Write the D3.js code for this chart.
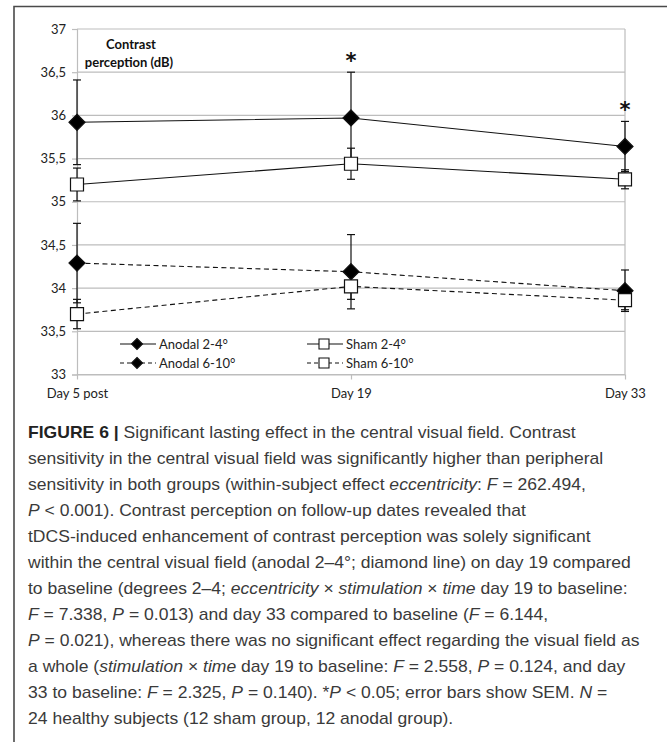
<!DOCTYPE html>
<html>
<head>
<meta charset="utf-8">
<script src="https://cdn.jsdelivr.net/npm/d3@7"></script>
<style>
  body { margin: 0; background: #fff; }
  svg { display: block; }
</style>
</head>
<body>
<div id="chart"></div>
<script>
// values (contrast perception, dB)
var categories = ['Day 5 post', 'Day 19', 'Day 33'];
var anodal24 = [35.92, 35.97, 35.64];
var anodal24Sem = [0.49, 0.53, 0.29];
var sham24 = [35.20, 35.44, 35.26];
var sham24Sem = [0.19, 0.18, 0.11];
var anodal610 = [34.29, 34.19, 33.97];
var anodal610Sem = [0.46, 0.43, 0.24];
var sham610 = [33.70, 34.02, 33.86];
var sham610Sem = [0.17, 0.15, 0.11];
var yTicks = [33, 33.5, 34, 34.5, 35, 35.5, 36, 36.5, 37];
var starred = ['Day 19', 'Day 33'];

var caption = [
  [['FIGURE 6 | ', 'b'], ['Significant lasting effect in the central visual field. Contrast', '']],
  [['sensitivity in the central visual field was significantly higher than peripheral', '']],
  [['sensitivity in both groups (within-subject effect ', ''], ['eccentricity', 'i'], [': ', ''], ['F', 'i'], [' = 262.494,', '']],
  [['P', 'i'], [' < 0.001). Contrast perception on follow-up dates revealed that', '']],
  [['tDCS-induced enhancement of contrast perception was solely significant', '']],
  [['within the central visual field (anodal 2\u20134\u00b0; diamond line) on day 19 compared', '']],
  [['to baseline (degrees 2\u20134; ', ''], ['eccentricity', 'i'], [' \u00d7 ', ''], ['stimulation', 'i'], [' \u00d7 ', ''], ['time', 'i'], [' day 19 to baseline:', '']],
  [['F', 'i'], [' = 7.338, ', ''], ['P', 'i'], [' = 0.013) and day 33 compared to baseline (', ''], ['F', 'i'], [' = 6.144,', '']],
  [['P', 'i'], [' = 0.021), whereas there was no significant effect regarding the visual field as', '']],
  [['a whole (', ''], ['stimulation', 'i'], [' \u00d7 ', ''], ['time', 'i'], [' day 19 to baseline: ', ''], ['F', 'i'], [' = 2.558, ', ''], ['P', 'i'], [' = 0.124, and day', '']],
  [['33 to baseline: ', ''], ['F', 'i'], [' = 2.325, ', ''], ['P', 'i'], [' = 0.140). *', ''], ['P', 'i'], [' < 0.05; error bars show SEM. ', ''], ['N', 'i'], [' =', '']],
  [['24 healthy subjects (12 sham group, 12 anodal group).', '']]
];

var series = [
  { name: 'Anodal 6-10\u00b0', values: anodal610, sem: anodal610Sem, marker: 'diamond', dashed: true },
  { name: 'Sham 6-10\u00b0', values: sham610, sem: sham610Sem, marker: 'square', dashed: true },
  { name: 'Sham 2-4\u00b0', values: sham24, sem: sham24Sem, marker: 'square', dashed: false },
  { name: 'Anodal 2-4\u00b0', values: anodal24, sem: anodal24Sem, marker: 'diamond', dashed: false }
];
var legendOrder = ['Anodal 2-4\u00b0', 'Sham 2-4\u00b0', 'Anodal 6-10\u00b0', 'Sham 6-10\u00b0'];

(function () {
  var W = 667, H = 742;
  var pLeft = 77, pRight = 625, pTop = 29, pBottom = 374.5;
  var chartFont = 'Lato, "Open Sans", sans-serif';

  var svg = d3.select('#chart').append('svg')
    .attr('width', W)
    .attr('height', H);

  // outer figure frame (top and left rule)
  svg.append('path')
    .attr('d', 'M14,' + H + 'V6.5H' + W)
    .attr('fill', 'none')
    .attr('stroke', '#4a4a4a')
    .attr('stroke-width', 1.6);

  var x = d3.scalePoint().domain(categories).range([pLeft, pRight]);
  var y = d3.scaleLinear().domain([33, 37]).range([pBottom, pTop]);

  // grid
  svg.append('g').selectAll('line')
    .data(yTicks)
    .enter()
    .append('line')
    .attr('x1', pLeft).attr('x2', pRight)
    .attr('y1', function(d) { return y(d); })
    .attr('y2', function(d) { return y(d); })
    .attr('stroke', '#bdbdbd')
    .attr('stroke-width', 1.2);

  svg.append('line')
    .attr('x1', pRight).attr('x2', pRight)
    .attr('y1', pTop).attr('y2', pBottom)
    .attr('stroke', '#bdbdbd')
    .attr('stroke-width', 1.2);

  // y axis
  var yAxis = svg.append('g')
    .attr('transform', 'translate(' + pLeft + ',0)')
    .call(d3.axisLeft(y).tickValues(yTicks).tickSize(5).tickPadding(6)
      .tickFormat(function(d) { return String(d).replace('.', ','); }));
  yAxis.select('.domain').attr('stroke', '#bdbdbd').attr('stroke-width', 1.2);
  yAxis.selectAll('.tick line').attr('stroke', '#bdbdbd').attr('stroke-width', 1.2);
  yAxis.selectAll('text')
    .attr('font-family', chartFont)
    .attr('font-size', 13)
    .attr('fill', '#222');

  // x axis
  var xAxis = svg.append('g')
    .attr('transform', 'translate(0,' + pBottom + ')')
    .call(d3.axisBottom(x).tickSize(5).tickPadding(9).tickSizeOuter(0));
  xAxis.select('.domain').attr('stroke', '#bdbdbd').attr('stroke-width', 1.2);
  xAxis.selectAll('.tick line').attr('stroke', '#bdbdbd').attr('stroke-width', 1.2);
  xAxis.selectAll('text')
    .attr('font-family', chartFont)
    .attr('font-size', 13)
    .attr('fill', '#222');

  // axis title inside the plot
  var title = svg.append('text')
    .attr('font-family', chartFont)
    .attr('font-size', 13)
    .attr('font-weight', 'bold')
    .attr('fill', '#111')
    .attr('text-anchor', 'middle');
  title.append('tspan').attr('x', 131).attr('y', 49).text('Contrast');
  title.append('tspan').attr('x', 129).attr('y', 67).text('perception (dB)');

  function markerPath(type, s) {
    if (type === 'diamond') return 'M0,' + (-s) + 'L' + s + ',0L0,' + s + 'L' + (-s) + ',0Z';
    return 'M' + (-s) + ',' + (-s) + 'H' + s + 'V' + s + 'H' + (-s) + 'Z';
  }

  var line = d3.line()
    .x(function(d, i) { return x(categories[i]); })
    .y(function(d) { return y(d); });

  // error bars first, then lines, then markers
  series.forEach(function(s) {
    var g = svg.append('g');
    s.values.forEach(function(v, i) {
      var cx = x(categories[i]);
      var hi = y(v + s.sem[i]), lo = y(v - s.sem[i]);
      g.append('line').attr('x1', cx).attr('x2', cx).attr('y1', hi).attr('y2', lo)
        .attr('stroke', '#111').attr('stroke-width', 1.2);
      [hi, lo].forEach(function(yy) {
        g.append('line').attr('x1', cx - 4).attr('x2', cx + 4).attr('y1', yy).attr('y2', yy)
          .attr('stroke', '#111').attr('stroke-width', 1.2);
      });
    });
  });

  series.forEach(function(s) {
    svg.append('path')
      .datum(s.values)
      .attr('d', line)
      .attr('fill', 'none')
      .attr('stroke', '#111')
      .attr('stroke-width', 1.1)
      .attr('stroke-dasharray', s.dashed ? '5,3.5' : null);
  });

  series.forEach(function(s) {
    svg.append('g').selectAll('path')
      .data(s.values)
      .enter()
      .append('path')
      .attr('transform', function(d, i) { return 'translate(' + x(categories[i]) + ',' + y(d) + ')'; })
      .attr('d', s.marker === 'diamond' ? markerPath('diamond', 8) : markerPath('square', 6.5))
      .attr('fill', s.marker === 'diamond' ? '#000' : '#fff')
      .attr('stroke', '#111')
      .attr('stroke-width', 1.2);
  });

  // significance stars above the anodal 2-4 error bar
  svg.append('g').selectAll('text')
    .data(starred)
    .enter()
    .append('text')
    .attr('x', function(d) { return x(d); })
    .attr('y', function(d) {
      var i = categories.indexOf(d);
      return y(anodal24[i] + anodal24Sem[i]) - 4;
    })
    .attr('text-anchor', 'middle')
    .attr('font-family', '"DejaVu Sans", sans-serif')
    .attr('font-size', 21)
    .attr('font-weight', 'bold')
    .attr('fill', '#111')
    .text('*');

  // legend
  var legend = svg.append('g');
  legendOrder.forEach(function(name, k) {
    var s = series.filter(function(d) { return d.name === name; })[0];
    var lx = k % 2 === 0 ? 120 : 307;
    var ly = k < 2 ? 344 : 363;
    legend.append('line')
      .attr('x1', lx).attr('x2', lx + 36).attr('y1', ly).attr('y2', ly)
      .attr('stroke', '#111').attr('stroke-width', 1.1)
      .attr('stroke-dasharray', s.dashed ? '4,3' : null);
    legend.append('path')
      .attr('transform', 'translate(' + (lx + 17) + ',' + ly + ')')
      .attr('d', s.marker === 'diamond' ? markerPath('diamond', 5.5) : markerPath('square', 5))
      .attr('fill', s.marker === 'diamond' ? '#000' : '#fff')
      .attr('stroke', '#111')
      .attr('stroke-width', 1.1);
    legend.append('text')
      .attr('x', lx + 39)
      .attr('y', ly + 4.5)
      .attr('font-family', chartFont)
      .attr('font-size', 13)
      .attr('fill', '#222')
      .text(name);
  });

  // caption: set at a readable size, then squeezed sideways to the reference's width
  var cap = svg.append('g')
    .attr('font-family', '"Liberation Sans", Arial, sans-serif')
    .attr('font-size', 17)
    .attr('fill', '#3a3a3a');
  var widest = 0;
  caption.forEach(function(parts, i) {
    var t = cap.append('text')
      .attr('x', 0)
      .attr('y', 438 + i * 26);
    parts.forEach(function(p) {
      var ts = t.append('tspan').text(p[0]);
      if (p[1] === 'b') ts.attr('font-weight', 'bold').attr('fill', '#222');
      if (p[1] === 'i') ts.attr('font-style', 'italic');
    });
    widest = Math.max(widest, t.node().getComputedTextLength());
  });
  var k = widest > 0 ? 612 / widest : 1;
  cap.attr('transform', 'translate(28,0) scale(' + k + ',1)');
})();
</script>
</body>
</html>
